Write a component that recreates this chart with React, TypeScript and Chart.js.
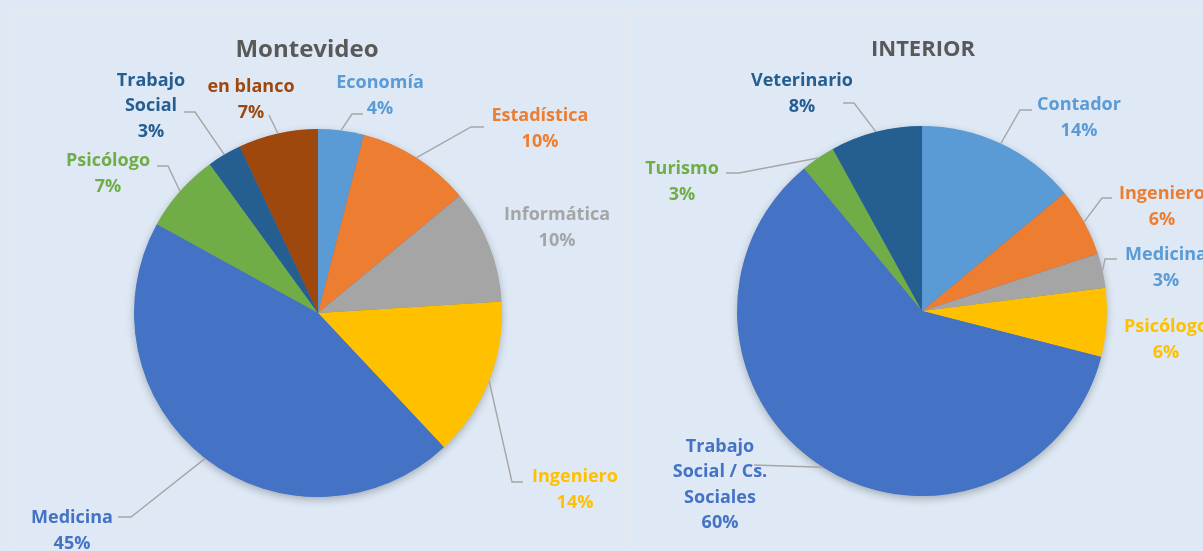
import React, { useEffect, useRef } from "react";
import { Chart, registerables } from "chart.js";

Chart.register(...registerables);

// ---------- Data ----------
const mvdTitle = "Montevideo";
const mvdCategories = ["Economía", "Estadística", "Informática", "Ingeniero", "Medicina", "Psicólogo", "Trabajo Social", "en blanco"];
const mvdValues = [4, 10, 10, 14, 45, 7, 3, 7];

const intTitle = "INTERIOR";
const intCategories = ["Contador", "Ingeniero", "Medicina", "Psicólogo", "Trabajo Social / Cs. Sociales", "Turismo", "Veterinario"];
const intValues = [14, 6, 3, 6, 60, 3, 8];

// ---------- Styles ----------
const BLUE_L = "#5b9bd5";
const ORANGE = "#ed7d31";
const GRAY = "#a5a5a5";
const GOLD = "#ffc000";
const BLUE = "#4472c4";
const GREEN = "#70ad47";
const NAVY = "#255e91";
const BROWN = "#9e480e";

const mvdColors = [BLUE_L, ORANGE, GRAY, GOLD, BLUE, GREEN, NAVY, BROWN];
const mvdTextColors = [BLUE_L, ORANGE, GRAY, GOLD, BLUE, GREEN, NAVY, BROWN];
const intColors = [BLUE_L, ORANGE, GRAY, GOLD, BLUE, GREEN, NAVY];
const intTextColors = [BLUE_L, ORANGE, BLUE_L, GOLD, BLUE, GREEN, NAVY];

const FONT = "'Open Sans', 'Noto Sans', sans-serif";

// label placement relative to the pie centre (px)
type LabelLayout = { text: [number, number]; knee?: [number, number]; tail?: number; wrap: number };
const mvdLayout: LabelLayout[] = [
  { text: [62, -219], knee: [34, -199], tail: 11, wrap: 200 },
  { text: [222, -186], knee: [153, -186], tail: 13, wrap: 200 },
  { text: [239, -87], wrap: 200 },
  { text: [257, 175], knee: [194, 169], tail: 11, wrap: 200 },
  { text: [-246, 216], knee: [-187, 204], tail: -13, wrap: 200 },
  { text: [-210, -141], knee: [-150, -147], tail: -11, wrap: 200 },
  { text: [-167, -209], knee: [-123, -201], tail: -11, wrap: 75 },
  { text: [-67, -215], knee: [-49, -198], tail: 0, wrap: 200 },
];
const intLayout: LabelLayout[] = [
  { text: [157, -195], knee: [98, -201], tail: 12, wrap: 200 },
  { text: [240, -106], knee: [180, -113], tail: 10, wrap: 200 },
  { text: [244, -45], knee: [183, -52], tail: 12, wrap: 200 },
  { text: [244, 27], wrap: 200 },
  { text: [-202, 172], knee: [-168, 154], tail: 0, wrap: 112 },
  { text: [-240, -131], knee: [-183, -138], tail: -13, wrap: 200 },
  { text: [-120, -219], knee: [-68, -208], tail: -11, wrap: 200 },
];

function wrapText(ctx: CanvasRenderingContext2D, text: string, maxW: number): string[] {
  const words = text.split(" ");
  const lines: string[] = [];
  let cur = "";
  for (const w of words) {
    const test = cur ? cur + " " + w : w;
    if (cur && ctx.measureText(test).width > maxW) {
      lines.push(cur);
      cur = w;
    } else cur = test;
  }
  if (cur) lines.push(cur);
  return lines;
}

const piePlugin = {
  id: "pieDecor",
  beforeDatasetsDraw(chart: any) {
    const meta = chart.getDatasetMeta(0);
    const a0 = meta.data[0];
    if (!a0) return;
    const { x, y, outerRadius } = a0.getProps(["x", "y", "outerRadius"], true);
    const ctx = chart.ctx;
    ctx.save();
    ctx.shadowColor = "rgba(0,0,0,0.28)";
    ctx.shadowBlur = 8;
    ctx.shadowOffsetY = 3;
    ctx.fillStyle = "#4472c4";
    ctx.beginPath();
    ctx.arc(x, y, outerRadius - 0.5, 0, Math.PI * 2);
    ctx.fill();
    ctx.restore();
  },
  afterDatasetsDraw(chart: any, _args: any, opts: any) {
    const ctx: CanvasRenderingContext2D = chart.ctx;
    const meta = chart.getDatasetMeta(0);
    const labels: string[] = chart.data.labels;
    const values: number[] = chart.data.datasets[0].data;
    const total = values.reduce((s, v) => s + v, 0);
    const layout: LabelLayout[] = opts.layout;
    const colors: string[] = opts.textColors;
    const dy = 2;
    let cx = 0, cy = 0;
    meta.data.forEach((arc: any, i: number) => {
      const p = arc.getProps(["x", "y", "startAngle", "endAngle", "outerRadius"], true);
      cx = p.x; cy = p.y;
      const L = layout[i];
      const mid = (p.startAngle + p.endAngle) / 2;
      if (L.knee) {
        const sx = p.x + Math.cos(mid) * p.outerRadius;
        const sy = p.y + Math.sin(mid) * p.outerRadius;
        const kx = p.x + L.knee[0];
        const ky = p.y + L.knee[1];
        ctx.save();
        ctx.strokeStyle = "#a6a6a6";
        ctx.lineWidth = 1.4;
        ctx.beginPath();
        ctx.moveTo(sx, sy);
        ctx.lineTo(kx, ky);
        if (L.tail) ctx.lineTo(kx + L.tail, ky);
        ctx.stroke();
        ctx.restore();
      }
      ctx.save();
      ctx.font = `bold ${opts.fontSize}px ${FONT}`;
      ctx.fillStyle = colors[i];
      ctx.textAlign = "center";
      ctx.textBaseline = "middle";
      const lines = wrapText(ctx, labels[i], L.wrap);
      lines.push(Math.round((values[i] / total) * 100) + "%");
      const lh = opts.lineHeight;
      const tx = p.x + L.text[0];
      const ty0 = p.y + L.text[1] + dy - ((lines.length - 1) * lh) / 2;
      lines.forEach((ln, k) => ctx.fillText(ln, tx, ty0 + k * lh));
      ctx.restore();
    });
    // title
    ctx.save();
    ctx.font = `bold ${opts.titleSize}px ${FONT}`;
    ctx.fillStyle = "#595959";
    ctx.textAlign = "center";
    ctx.textBaseline = "middle";
    ctx.fillText(opts.title, cx + opts.titlePos[0], cy + opts.titlePos[1] + dy);
    ctx.restore();
  },
};

function PieCanvas(props: {
  categories: string[];
  values: number[];
  colors: string[];
  textColors: string[];
  layout: LabelLayout[];
  title: string;
  titlePos: [number, number];
  titleSize: number;
  padding: { left: number; right: number; top: number; bottom: number };
}) {
  const ref = useRef<HTMLCanvasElement | null>(null);
  useEffect(() => {
    if (!ref.current) return;
    const chart = new Chart(ref.current, {
      type: "pie",
      data: {
        labels: props.categories,
        datasets: [
          {
            data: props.values,
            backgroundColor: props.colors,
            borderWidth: 0,
          },
        ],
      },
      options: {
        animation: false,
        responsive: false,
        events: [],
        layout: { padding: props.padding },
        plugins: {
          legend: { display: false },
          tooltip: { enabled: false },
          title: { display: false },
          pieDecor: {
            layout: props.layout,
            textColors: props.textColors,
            fontSize: 18,
            lineHeight: 25.5,
            titleSize: props.titleSize,
            title: props.title,
            titlePos: props.titlePos,
          },
        } as any,
      },
      plugins: [piePlugin],
    });
    return () => chart.destroy();
  }, []);
  return (
    <canvas
      ref={ref}
      width={1203}
      height={551}
      style={{ position: "absolute", left: 0, top: 0, width: 1203, height: 551 }}
    />
  );
}

export default function App() {
  return (
    <div
      style={{
        position: "fixed",
        left: 0,
        top: 0,
        width: 1203,
        height: 551,
        overflow: "hidden",
        background: "#dee9f5",
      }}
    >
      <div
        style={{
          position: "absolute",
          left: 8,
          top: 12,
          width: 617,
          height: 560,
          border: "1px solid #e6e9ed",
          boxSizing: "border-box",
        }}
      />
      <div
        style={{
          position: "absolute",
          left: 628,
          top: 12,
          width: 600,
          height: 560,
          border: "1px solid #e6e9ed",
          boxSizing: "border-box",
        }}
      />
      <PieCanvas
        categories={mvdCategories}
        values={mvdValues}
        colors={mvdColors}
        textColors={mvdTextColors}
        layout={mvdLayout}
        title={mvdTitle}
        titlePos={[-11, -265]}
        titleSize={24}
        padding={{ left: 134, right: 701, top: 129, bottom: 54 }}
      />
      <PieCanvas
        categories={intCategories}
        values={intValues}
        colors={intColors}
        textColors={intTextColors}
        layout={intLayout}
        title={intTitle}
        titlePos={[1, -263]}
        titleSize={22}
        padding={{ left: 737, right: 96, top: 126, bottom: 55 }}
      />
    </div>
  );
}
